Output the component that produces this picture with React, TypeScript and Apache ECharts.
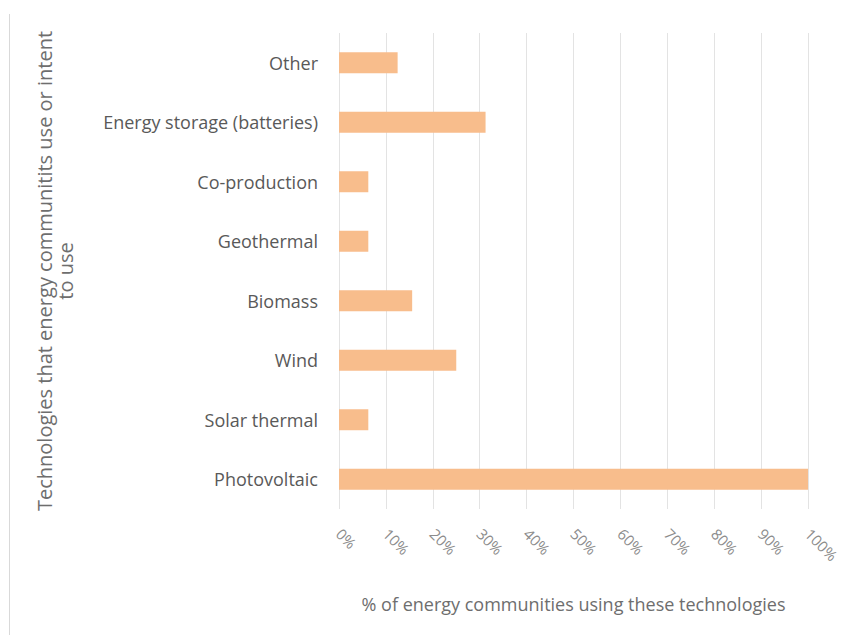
import React, { useEffect, useRef } from "react";
import * as echarts from "echarts";

const categories = [
  "Photovoltaic",
  "Solar thermal",
  "Wind",
  "Biomass",
  "Geothermal",
  "Co-production",
  "Energy storage (batteries)",
  "Other",
];
const values = [100, 6.25, 25, 15.6, 6.25, 6.25, 31.25, 12.5];
const xTicks = { min: 0, max: 100, interval: 10 };

export default function App() {
  const ref = useRef<HTMLDivElement>(null);
  useEffect(() => {
    const chart = echarts.init(ref.current!, null, { renderer: "svg" });
    chart.setOption({
      animation: false,
      backgroundColor: "#ffffff",
      textStyle: { fontFamily: "Open Sans" },
      grid: { left: 339, right: 37, top: 33, bottom: 126, containLabel: false },
      graphic: [
        {
          type: "line",
          shape: { x1: 9.5, y1: 14, x2: 9.5, y2: 635 },
          style: { stroke: "#d9d9d9", lineWidth: 1 },
        },
      ],
      xAxis: {
        type: "value",
        min: xTicks.min,
        max: xTicks.max,
        interval: xTicks.interval,
        axisLine: { show: false },
        axisTick: { show: false },
        splitLine: { show: true, lineStyle: { color: "#e3e3e3", width: 1 } },
        axisLabel: {
          formatter: "{value}%",
          rotate: -45,
          color: "#8c8c8c",
          fontSize: 15,
          margin: 22,
          fontFamily: "Open Sans",
        },
        name: "% of energy communities using these technologies",
        nameLocation: "middle",
        nameGap: 86,
        nameTextStyle: { color: "#6e6e6e", fontSize: 18, fontFamily: "Open Sans" },
      },
      yAxis: {
        type: "category",
        data: categories,
        axisLine: { show: false },
        axisTick: { show: false },
        splitLine: { show: false },
        axisLabel: {
          color: "#595959",
          fontSize: 18,
          margin: 21,
          fontFamily: "Open Sans",
        },
        name: "Technologies that energy communitits use or intent\nto use",
        nameLocation: "middle",
        nameGap: 263,
        nameRotate: 90,
        nameTextStyle: {
          color: "#6e6e6e",
          fontSize: 20,
          lineHeight: 21,
          align: "center",
          fontFamily: "Open Sans",
        },
      },
      series: [
        {
          type: "bar",
          data: values,
          barWidth: 21,
          itemStyle: { color: "#f8bd8c" },
        },
      ],
    });
    return () => chart.dispose();
  }, []);
  return (
    <div
      ref={ref}
      style={{ position: "fixed", left: 0, top: 0, width: 845, height: 635 }}
    />
  );
}
